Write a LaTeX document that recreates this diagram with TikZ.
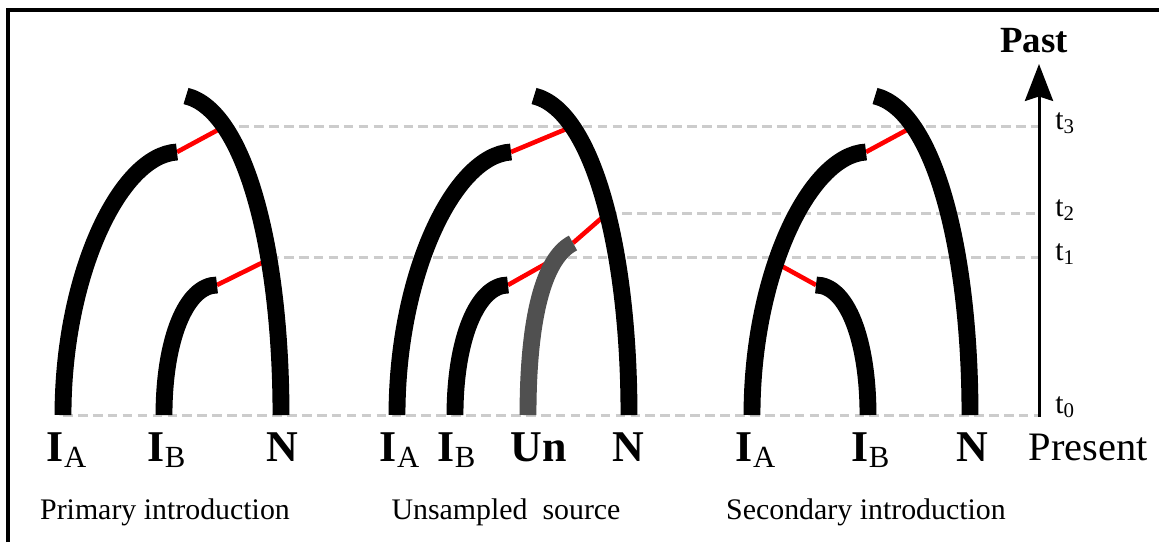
\documentclass[tikz,border=0pt]{standalone}
\usepackage{fontspec}
\setmainfont{Liberation Serif}
\usetikzlibrary{arrows.meta}

\definecolor{epochgrey}{RGB}{204,204,204}
\definecolor{ghostgrey}{RGB}{80,80,80}
\pgfdeclarelayer{back}
\pgfsetlayers{back,main}

\tikzset{
  lineage/.style={line width=9.6pt},
  ghost/.style={line width=9.6pt, color=ghostgrey},
  transfer/.style={red, line width=2.6pt},
  epoch/.style={line width=1.7pt, color=epochgrey, dash pattern=on 5.5pt off 3pt},
  taxon/.style={anchor=base, inner sep=0pt, font=\fontsize{25}{30}\selectfont},
  caption/.style={anchor=base, inner sep=0pt, font=\fontsize{17}{20}\selectfont},
  tick/.style={anchor=base west, inner sep=0pt, font=\fontsize{17}{20}\selectfont},
}

\begin{document}
\begin{tikzpicture}[x=0.02cm, y=-0.02cm]
  \useasboundingbox (0,0) rectangle (1159,542);
  \draw[line width=2pt] (8,542) -- (8,10) -- (1159,10);

  % time axis
  \coordinate (a0) at (1039,415);
  \coordinate (a1) at (1039,257);
  \coordinate (a2) at (1039,213);
  \coordinate (a3) at (1039,126);
  \coordinate (atop) at (1039,64);
  \draw[line width=1.7pt, -{Stealth[length=21pt, width=16pt, inset=2.5pt]}] (1039,417) -- (atop);

  % primary introduction
  \draw[lineage] (63,415) coordinate (ia1) .. controls (63,275) and (120,155) .. (177,152) coordinate (ia1top);
  \draw[lineage] (164,415) .. controls (164,340) and (186,285) .. (217,285) coordinate (ib1top);
  \draw[lineage] (186,96) .. controls (245,110) and (281,250) .. (281,415)
    coordinate[pos=0.24] (n1t3) coordinate[pos=0.66] (n1t1);

  % unsampled source
  \draw[lineage] (397,415) .. controls (397,275) and (454,155) .. (511,152) coordinate (ia2top);
  \draw[lineage] (455,415) .. controls (455,340) and (477,285) .. (508,285) coordinate (ib2top);
  \draw[ghost] (528,415) .. controls (528,320) and (543,258) .. (573,243)
    coordinate (un2top) coordinate[pos=0.8] (un2t1);
  \draw[lineage] (534,96) .. controls (593,110) and (629,250) .. (629,415)
    coordinate[pos=0.24] (n2t3) coordinate[pos=0.54] (n2t2);

  % secondary introduction
  \draw[lineage] (752,415) .. controls (752,275) and (809,155) .. (866,152)
    coordinate (ia3top) coordinate[pos=0.4] (ia3t1);
  \draw[lineage] (816,285) coordinate (ib3top) .. controls (847,285) and (868,340) .. (868,415);
  \draw[lineage] (875,96) .. controls (934,110) and (970,250) .. (970,415) coordinate[pos=0.24] (n3t3);

  \begin{pgfonlayer}{back}
    \draw[epoch] (ia1) -- (a0);
    \draw[epoch] (n1t1 |- a1) -- (a1);
    \draw[epoch] (n2t2 |- a2) -- (a2);
    \draw[epoch] (n1t3 |- a3) -- (a3);
    \draw[transfer] (ia1top) -- (n1t3);
    \draw[transfer] (ib1top) -- (n1t1);
    \draw[transfer] (ia2top) -- (n2t3);
    \draw[transfer] (ib2top) -- (un2t1);
    \draw[transfer] (un2top) -- (n2t2);
    \draw[transfer] (ia3top) -- (n3t3);
    \draw[transfer] (ib3top) -- (ia3t1);
  \end{pgfonlayer}

  % labels
  \node[taxon] (la1) at (67,461) {\textbf{I}\textsubscript{A}};
  \node[taxon] (lb1) at (167,461) {\textbf{I}\textsubscript{B}};
  \node[taxon] (ln1) at (282,461) {\textbf{N}};
  \node[taxon] (la2) at (400,461) {\textbf{I}\textsubscript{A}};
  \node[taxon] (lb2) at (457,461) {\textbf{I}\textsubscript{B}};
  \node[taxon] (lu2) at (539,461) {\textbf{Un}};
  \node[taxon] (ln2) at (628,461) {\textbf{N}};
  \node[taxon] (la3) at (756,461) {\textbf{I}\textsubscript{A}};
  \node[taxon] (lb3) at (871,461) {\textbf{I}\textsubscript{B}};
  \node[taxon] (ln3) at (972,461) {\textbf{N}};

  \node[caption] (cap1) at (165,519) {Primary introduction};
  \node[caption] (cap2) at (506,519) {Unsampled~ source};
  \node[caption] (cap3) at (866,519) {Secondary introduction};

  \node[tick] (t0) at (1055,413) {t\textsubscript{0}};
  \node[tick] (t1) at (1055,260) {t\textsubscript{1}};
  \node[tick] (t2) at (1055,216) {t\textsubscript{2}};
  \node[tick] (t3) at (1055,129) {t\textsubscript{3}};

  \node[anchor=base, inner sep=0pt, font=\fontsize{21}{25}\selectfont\bfseries] (past) at (1034,52) {Past};
  \node[anchor=base, inner sep=0pt, font=\fontsize{23}{28}\selectfont] (present) at (1088,460) {Present};
\end{tikzpicture}
\end{document}
